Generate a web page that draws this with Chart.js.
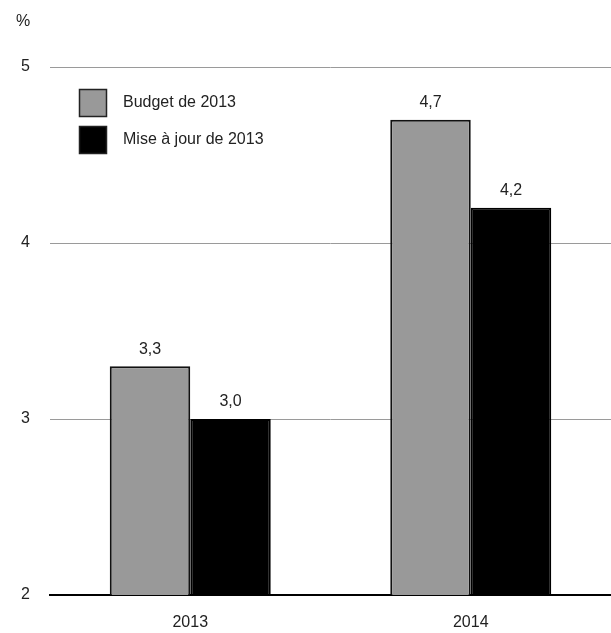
<!DOCTYPE html>
<html>
<head>
<meta charset="utf-8">
<script src="https://cdn.jsdelivr.net/npm/chart.js@4"></script>
<style>
  html, body { margin: 0; padding: 0; background: #fff; }
  #wrap { width: 611px; height: 633px; }
</style>
</head>
<body>
<div id="wrap"><canvas id="chart" width="611" height="633"></canvas></div>
<script>
const years = ['2013', '2014'];
const budgetValues = [3.3, 4.7];
const updateValues = [3.0, 4.2];
const seriesNames = ['Budget de 2013', 'Mise à jour de 2013'];
const yTicks = [2, 3, 4, 5];

const FONT = '"Liberation Sans", Arial, sans-serif';
const TEXT = '#222';

function fmt(v) {
    return v.toFixed(1).replace('.', ',');
}

// labels above bars, the % unit and the legend inside the plot
const extras = {
    id: 'extras',
    afterDatasetsDraw(chart) {
        const ctx = chart.ctx;
        ctx.save();
        ctx.fillStyle = TEXT;
        ctx.font = '16px ' + FONT;
        ctx.textAlign = 'center';
        ctx.textBaseline = 'bottom';
        chart.data.datasets.forEach((ds, i) => {
            chart.getDatasetMeta(i).data.forEach((bar, j) => {
                ctx.fillText(fmt(ds.data[j]), bar.x, bar.y - 9);
            });
        });

        ctx.textAlign = 'left';
        ctx.textBaseline = 'middle';
        ctx.fillText('%', 16, 22);

        chart.data.datasets.forEach((ds, i) => {
            const top = 89 + i * 37;
            ctx.fillStyle = ds.backgroundColor;
            ctx.fillRect(79, top, 28, 28);
            ctx.strokeStyle = '#222';
            ctx.lineWidth = 1.5;
            ctx.strokeRect(79.5, top + 0.5, 27, 27);
            ctx.fillStyle = TEXT;
            ctx.fillText(ds.label, 123, top + 14);
        });
        ctx.restore();
    }
};

new Chart(document.getElementById('chart'), {
    type: 'bar',
    data: {
        labels: years,
        datasets: [{
            label: seriesNames[0],
            data: budgetValues,
            backgroundColor: '#999999',
            borderColor: '#111',
            borderWidth: 2
        }, {
            label: seriesNames[1],
            data: updateValues,
            backgroundColor: '#000000',
            borderColor: '#000',
            borderWidth: 2
        }]
    },
    options: {
        responsive: false,
        animation: false,
        layout: { padding: { top: 67, right: 0, bottom: 0, left: 0 } },
        plugins: {
            legend: { display: false },
            tooltip: { enabled: false }
        },
        datasets: {
            bar: { barPercentage: 1, categoryPercentage: 0.574 }
        },
        scales: {
            x: {
                afterFit(axis) {
                    axis.height = 38;
                },
                grid: { display: false },
                border: { display: true, color: '#000', width: 2 },
                ticks: { color: TEXT, font: { family: FONT, size: 16 }, padding: 10 }
            },
            y: {
                min: 2,
                max: 5,
                afterBuildTicks(axis) {
                    axis.ticks = yTicks.map(v => ({ value: v }));
                },
                afterFit(axis) {
                    axis.width = 50;
                },
                border: { display: false },
                grid: {
                    drawTicks: false,
                    color: c => c.tick && c.tick.value === 2 ? '#000' : '#9a9a9a',
                    lineWidth: c => c.tick && c.tick.value === 2 ? 2 : 1
                },
                ticks: {
                    color: TEXT,
                    font: { family: FONT, size: 16 },
                    padding: 20,
                    callback: v => String(v)
                }
            }
        }
    },
    plugins: [extras]
});
</script>
</body>
</html>
